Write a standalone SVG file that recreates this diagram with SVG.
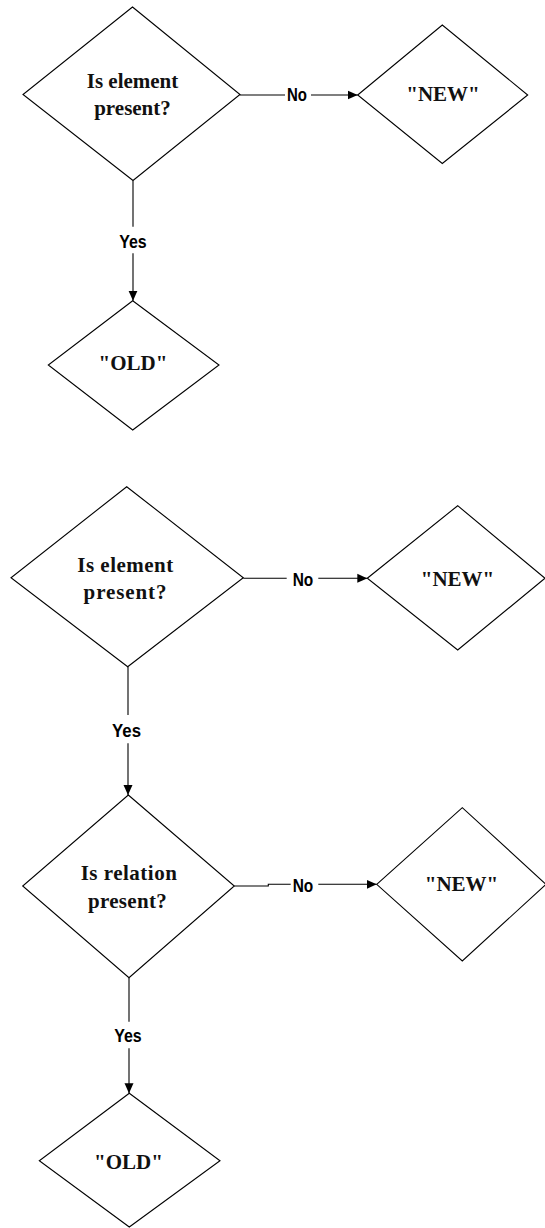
<svg xmlns="http://www.w3.org/2000/svg" width="545" height="1228" viewBox="0 0 545 1228">
  <style>
    .shape { fill: #ffffff; stroke: #000000; stroke-width: 1.1; }
    .conn { fill: none; stroke: #000000; stroke-width: 1.1; }
    .ntxt { font-family: "Liberation Serif", "Times New Roman", serif; font-weight: bold; font-size: 21px; fill: #111111; text-anchor: middle; }
    .ltxt { font-family: "Liberation Sans", Arial, sans-serif; font-weight: bold; font-size: 18px; fill: #000000; text-anchor: middle; }
  </style>
  <defs>
    <marker id="arrow" markerUnits="userSpaceOnUse" markerWidth="10" markerHeight="10" refX="10" refY="5" orient="auto">
      <path d="M0,0.5 L10,5 L0,9.5 Z" fill="#000000"/>
    </marker>
  </defs>
  <rect width="545" height="1228" fill="#ffffff"/>

  <g id="connectors">
    <path class="conn" d="M240,95 H285 M311,95 H357.7" marker-end="url(#arrow)"/>
    <text class="ltxt" x="297" y="100.9" textLength="20" lengthAdjust="spacingAndGlyphs">No</text>
    <path class="conn" d="M133,180.5 V226.7 M133,253.3 V300.7" marker-end="url(#arrow)"/>
    <text class="ltxt" x="133" y="247.5" textLength="27.5" lengthAdjust="spacingAndGlyphs">Yes</text>

    <path class="conn" d="M243.3,578.3 H286.7 M318.3,578.3 H367.3" marker-end="url(#arrow)"/>
    <text class="ltxt" x="303" y="586" textLength="20.6" lengthAdjust="spacingAndGlyphs">No</text>
    <path class="conn" d="M128,666.7 V715 M128,743.3 V795" marker-end="url(#arrow)"/>
    <text class="ltxt" x="126.5" y="736.7" textLength="29" lengthAdjust="spacingAndGlyphs">Yes</text>

    <path class="conn" d="M234.3,886 H268.3 V884.3 H290.7 M318.3,884.3 H376.7" marker-end="url(#arrow)"/>
    <text class="ltxt" x="303" y="891.7" textLength="20.6" lengthAdjust="spacingAndGlyphs">No</text>
    <path class="conn" d="M129,977.7 V1021.7 M129,1048.3 V1093.3" marker-end="url(#arrow)"/>
    <text class="ltxt" x="128" y="1041.9" textLength="27.5" lengthAdjust="spacingAndGlyphs">Yes</text>
  </g>

  <g id="q-element-1">
    <polygon class="shape" points="132.5,7 240,94.5 133,180.5 23,94.5"/>
    <text class="ntxt" x="132.5" y="87.7">Is element</text>
    <text class="ntxt" x="132.5" y="115">present?</text>
  </g>
  <g id="new-1">
    <polygon class="shape" points="357.7,95 442.3,25 527.7,95 442.3,163.5"/>
    <text class="ntxt" x="443" y="100.7">"NEW"</text>
  </g>
  <g id="old-1">
    <polygon class="shape" points="132.7,300.7 219,365 132.7,430 48.3,365"/>
    <text class="ntxt" x="133" y="370">"OLD"</text>
  </g>

  <g id="q-element-2">
    <polygon class="shape" points="126.7,486.7 243.3,577.7 127.7,666.7 11,577.7"/>
    <text class="ntxt" x="125.5" y="571.7" letter-spacing="0.5">Is element</text>
    <text class="ntxt" x="125.5" y="599.3" letter-spacing="0.9">present?</text>
  </g>
  <g id="new-2">
    <polygon class="shape" points="367.3,578.3 457.7,505.7 545,578.3 457.7,650"/>
    <text class="ntxt" x="457.5" y="586">"NEW"</text>
  </g>
  <g id="q-relation">
    <polygon class="shape" points="128.3,795 234.3,886 129,977.7 22.7,886"/>
    <text class="ntxt" x="129" y="880" letter-spacing="0.5">Is relation</text>
    <text class="ntxt" x="127.5" y="908.3" letter-spacing="0.3">present?</text>
  </g>
  <g id="new-3">
    <polygon class="shape" points="376.7,884.3 462.3,807.7 546,884.3 462.3,961"/>
    <text class="ntxt" x="461.5" y="891">"NEW"</text>
  </g>
  <g id="old-2">
    <polygon class="shape" points="129.3,1093.3 220,1160.7 129.3,1227 39.3,1160.7"/>
    <text class="ntxt" x="128.5" y="1169">"OLD"</text>
  </g>
</svg>
